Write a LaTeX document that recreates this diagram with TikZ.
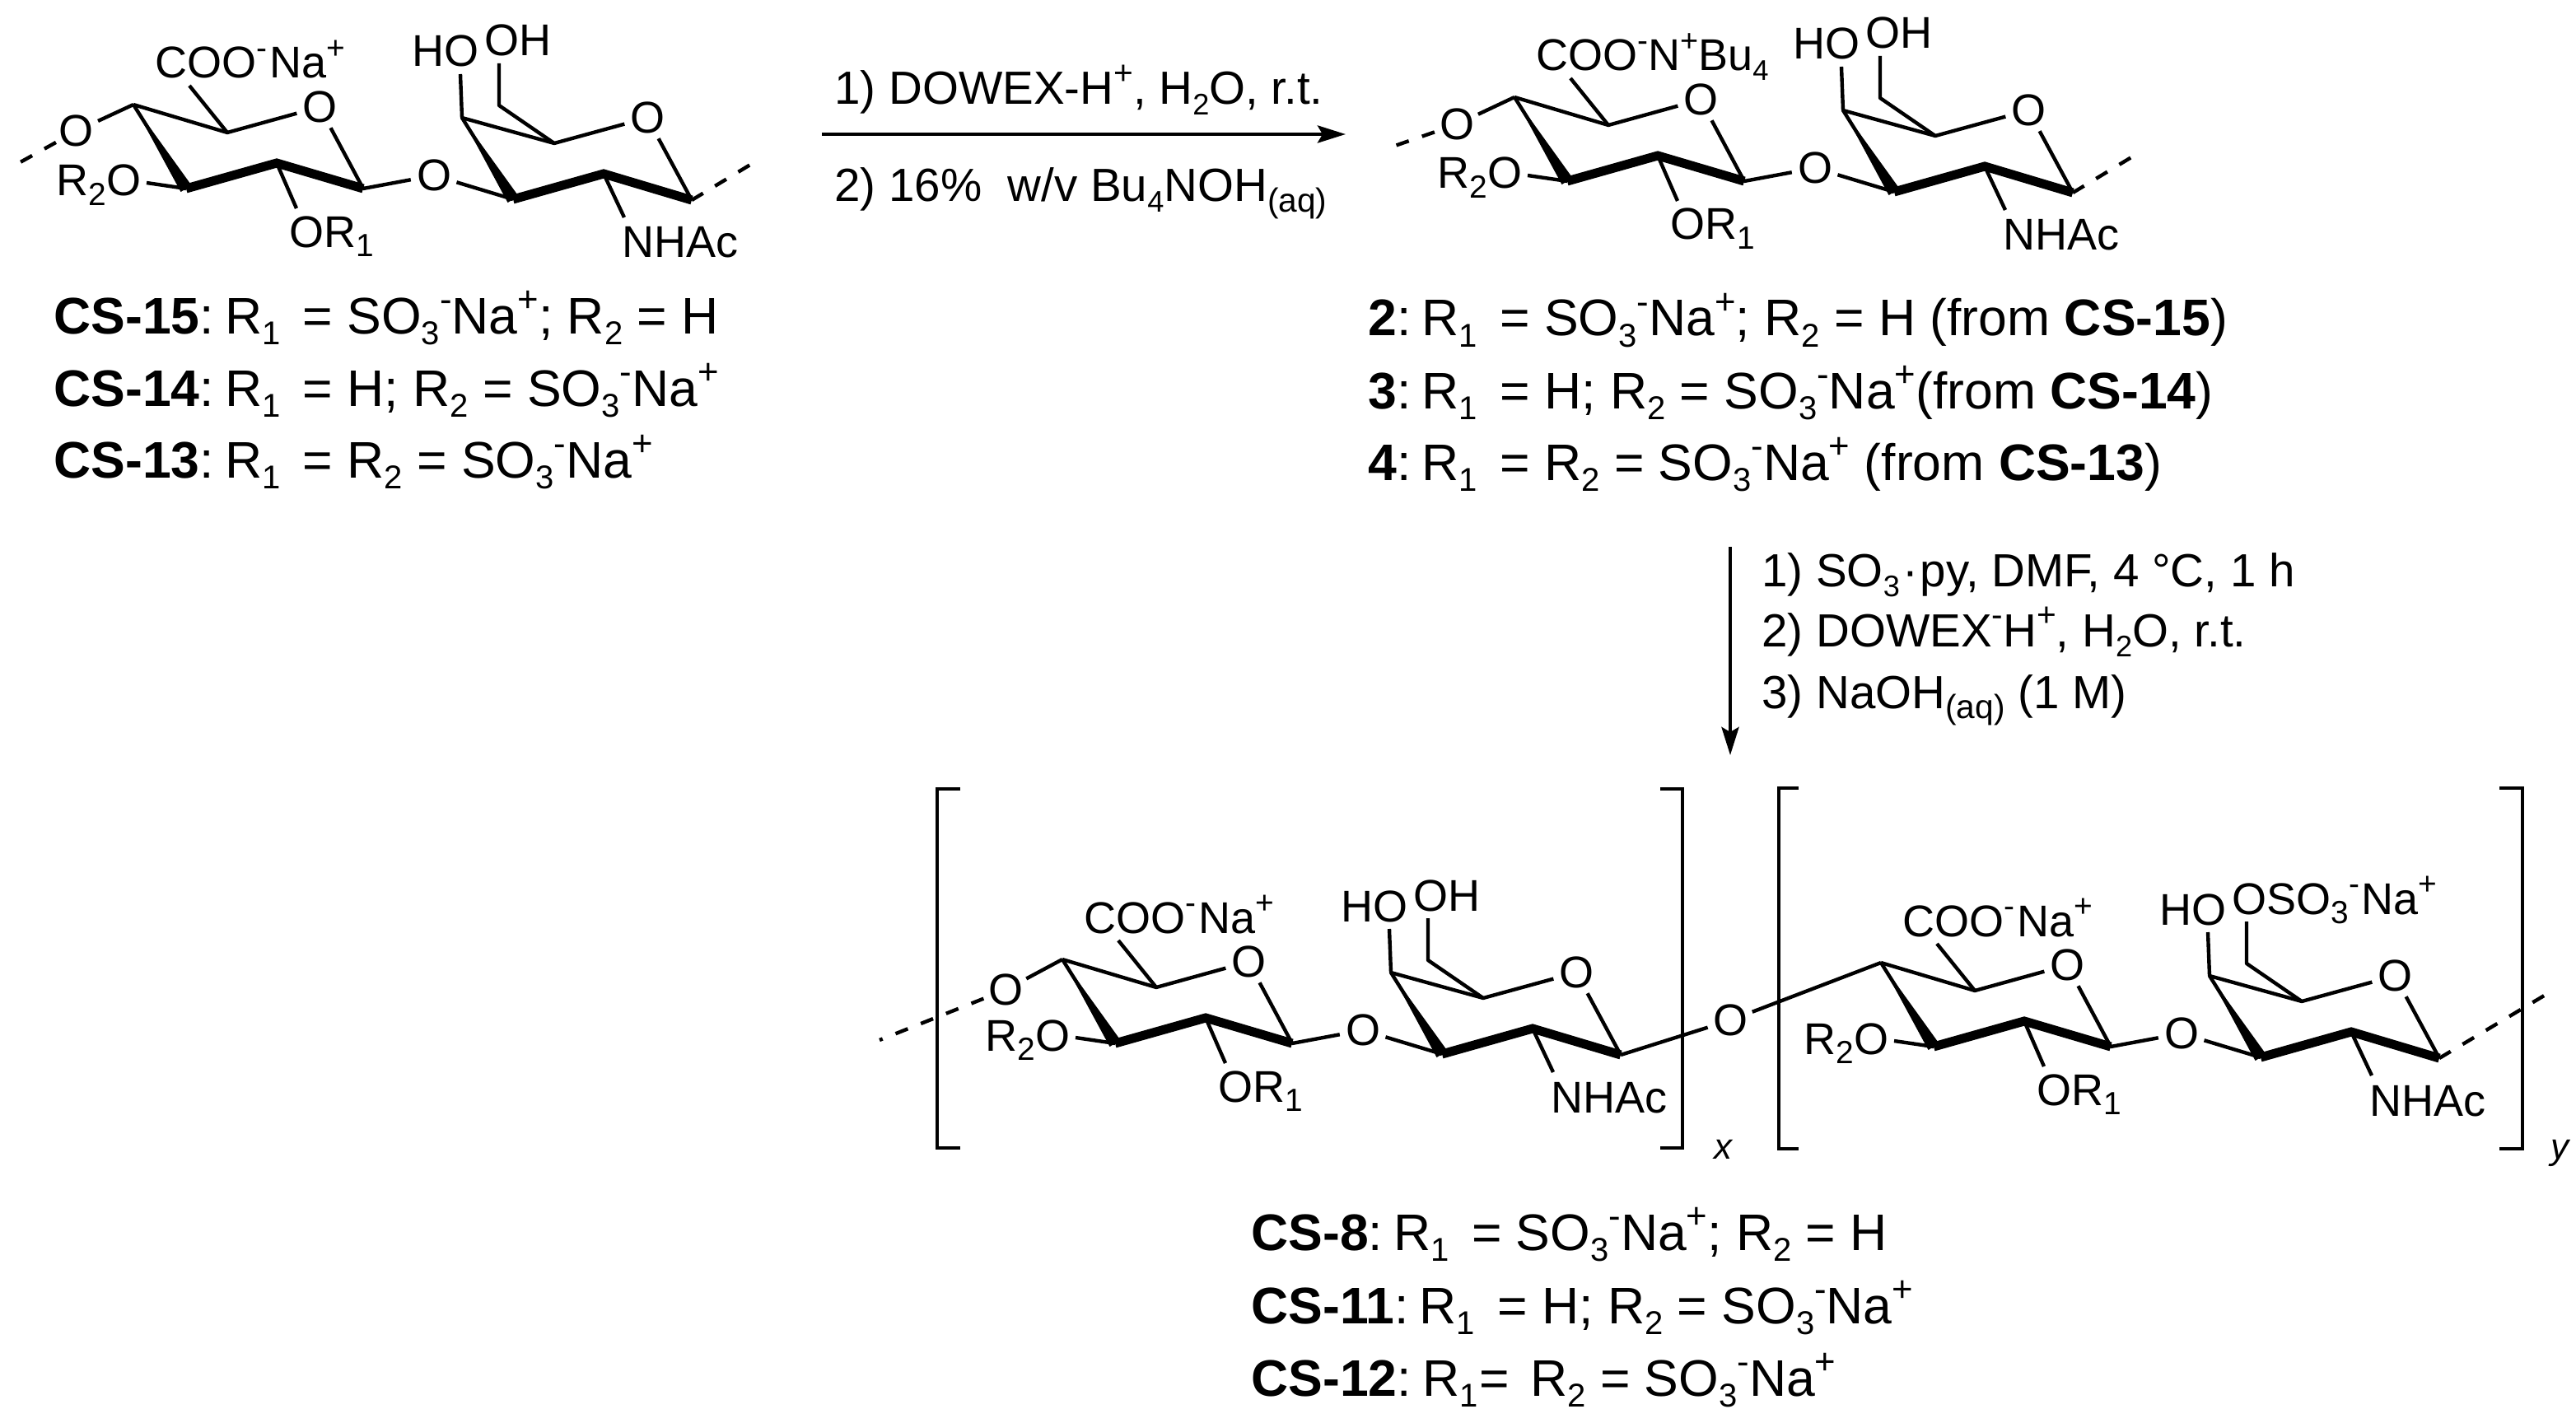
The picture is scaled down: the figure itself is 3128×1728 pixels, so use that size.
\documentclass[tikz,border=0pt]{standalone}
\usepackage{fontspec}
\setmainfont{Liberation Sans}
\usetikzlibrary{arrows.meta,calc}

\newcommand{\strfont}{\fontsize{27}{30}\selectfont}
\newcommand{\rxnfont}{\fontsize{28.25}{32}\selectfont}
\newcommand{\capfont}{\fontsize{31.25}{36}\selectfont}
\newcommand{\subtxt}[1]{\raisebox{-.22em}{\scalebox{.64}{#1}}}
\newcommand{\suptxt}[1]{\raisebox{.43em}{\scalebox{.7}{#1}}}
\newcommand{\sublbl}[1]{\raisebox{-.22em}{\scalebox{.72}{#1}}}
\newcommand{\suplbl}[1]{\raisebox{.43em}{\scalebox{.72}{#1}}}
\newcommand{\sulfate}{SO\subtxt{3}\suptxt{-}Na\suptxt{+}}
\newcommand{\firstR}[1]{\kern-5pt R\subtxt{#1}\kern5pt\relax}
\newcommand{\wedgebond}[2]{\fill (#1) -- ($(#2)!3.8pt!90:(#1)$) -- ($(#2)!3.8pt!-90:(#1)$) -- cycle;}

\tikzset{
    bond/.style={line width=2.2pt, line join=round},
    boldbond/.style={line width=5.5pt, line join=miter},
    dashbond/.style={line width=2.2pt, dash pattern=on 8pt off 8.5pt},
    atom/.style={circle, inner sep=0pt, minimum size=28pt, font=\strfont},
    lbl/.style={anchor=base west, inner sep=0pt, font=\strfont},
    % one disaccharide, #1 = carboxylate text, #2 = text on the CH2 arm
    pics/sugar/.style 2 args={code={
        % ring A
        \coordinate (A4) at (162,127);
        \coordinate (A5) at (276,161);
        \coordinate (A1) at (441,229);
        \coordinate (A2) at (336,198);
        \coordinate (A3) at (226,229);
        \node[atom] (OA) at (388,130) {O};
        \node[atom] (Ogly) at (527,213) {O};
        % ring B
        \coordinate (B4) at (561,143);
        \coordinate (B5) at (673,174);
        \coordinate (B6) at (606,128);
        \coordinate (B1) at (840,243);
        \coordinate (B2) at (733,211);
        \coordinate (B3) at (623,242);
        \node[atom] (OB) at (786,143) {O};
        % substituents
        \node[lbl] (COO) at (188,95) {#1};
        \node[lbl] (HO) at (500,81) {HO};
        \node[lbl] (arm) at (588,68) {#2};
        \node[lbl] (R2O) at (68,238) {R\sublbl{2}O};
        \node[lbl] (OR1) at (351,300) {OR\sublbl{1}};
        \node[lbl] (NHAc) at (755,313) {NHAc};
        \coordinate (COOend) at (230,104);
        \coordinate (HOend) at (559,90);
        \coordinate (armend) at (606,77);
        \coordinate (R2Oend) at (178,222);
        \coordinate (OR1end) at (360,253);
        \coordinate (NHAcend) at (758,264);
        % thin bonds
        \draw[bond] (A4) -- (A5) -- (OA) -- (A1) -- (Ogly) -- (B3);
        \draw[bond] (A5) -- (COOend);
        \draw[bond] (A3) -- (R2Oend);
        \draw[bond] (A2) -- (OR1end);
        \draw[bond] (HOend) -- (B4) -- (B5) -- (OB) -- (B1);
        \draw[bond] (B5) -- (B6) -- (armend);
        \draw[bond] (B2) -- (NHAcend);
        % front edges
        \draw[bond] (A4) -- (A3);
        \draw[bond] (B4) -- (B3);
        \wedgebond{A4}{A3}
        \wedgebond{B4}{B3}
        \draw[boldbond] (A3) -- (A2) -- (A1);
        \draw[boldbond] (B3) -- (B2) -- (B1);
    }},
}

\begin{document}
\begin{tikzpicture}[
    x=0.5pt, y=-0.5pt,
    rxn/.style={line width=2.3pt, -{Stealth[length=17pt, width=10.5pt, inset=3pt]}},
    hook/.style={line width=2.4pt},
    note/.style={anchor=base west, inner sep=0pt, font=\rxnfont},
    capt/.style={anchor=base west, inner sep=0pt, font=\capfont},
    idx/.style={anchor=base, inner sep=0pt, font=\fontsize{22}{24}\selectfont\itshape},
]
\path[use as bounding box] (0,0) rectangle (3128,1728);

% Starting material (top left)
\pic (tl) at (0,0) {sugar={COO\suplbl{-}\kern1.5pt Na\suplbl{+}}{OH}};
\node[atom] (tlO) at (93,159) {O};
\coordinate (tlfree) at (21,199);
\coordinate (tlend) at (916,197);
\draw[bond] (tlO) -- (tlA4);
\draw[dashbond] (tlO) -- (tlfree);
\draw[dashbond] (tlB1) -- (tlend);

\node[capt] (cs15) at (65,405) {\textbf{CS-15}: \firstR{1} = \sulfate; R\subtxt{2} = H};
\node[capt] (cs14) at (65,493) {\textbf{CS-14}: \firstR{1} = H; R\subtxt{2} = \sulfate};
\node[capt] (cs13) at (65,580) {\textbf{CS-13}: \firstR{1} = R\subtxt{2} = \sulfate};

% First step
\coordinate (ionstart) at (998,163);
\coordinate (ionend) at (1634,163);
\draw[rxn] (ionstart) -- (ionend);
\node[note] (ion1) at (1013,127) {1) DOWEX-H\suplbl{+}, H\subtxt{2}O, r.t.};
\node[note] (ion2) at (1013,245) {2) 16\%\ \ w/v Bu\subtxt{4}NOH\sublbl{(aq)}};

% Salt (top right)
\pic (tr) at (1677,-9) {sugar={COO\suplbl{-}N\suptxt{+}Bu\subtxt{4}}{OH}};
\node[atom] (trO) at (1769,151) {O};
\coordinate (trfree) at (1691,178);
\coordinate (trend) at (2593,188);
\draw[bond] (trO) -- (trA4);
\draw[dashbond] (trO) -- (trfree);
\draw[dashbond] (trB1) -- (trend);

\node[capt] (two) at (1661,408) {\textbf{2}: \firstR{1} = \sulfate; R\subtxt{2} = H (from \textbf{CS-15})};
\node[capt] (three) at (1661,496) {\textbf{3}: \firstR{1} = H; R\subtxt{2} = \sulfate(from \textbf{CS-14})};
\node[capt] (four) at (1661,583) {\textbf{4}: \firstR{1} = R\subtxt{2} = \sulfate\ (from \textbf{CS-13})};

% Second step
\coordinate (sulfstart) at (2101,664);
\coordinate (sulfend) at (2101,917);
\draw[rxn] (sulfstart) -- (sulfend);
\node[note] (sulf1) at (2139,712) {1) SO\subtxt{3}\kern1.5pt·\kern1.5pt py, DMF, 4 °C, 1 h};
\node[note] (sulf2) at (2139,785) {2) DOWEX\suplbl{-}H\suplbl{+}, H\subtxt{2}O, r.t.};
\node[note] (sulf3) at (2139,860) {3) NaOH\sublbl{(aq)} (1 M)};

% Product: two bracketed units (bottom)
\pic (bl) at (1128,1038) {sugar={COO\suplbl{-}\kern1.5pt Na\suplbl{+}}{OH}};
\pic (br) at (2122,1042) {sugar={COO\suplbl{-}\kern1.5pt Na\suplbl{+}}{OSO\sublbl{3}\suplbl{-}\kern1pt Na\suplbl{+}}};
\node[atom] (blO) at (1221,1202) {O};
\node[atom] (link) at (2101,1239) {O};
\coordinate (blfree) at (1068,1263);
\coordinate (brend) at (3101,1202);
\draw[bond] (blO) -- (blA4);
\draw[dashbond] (blO) -- (blfree);
\draw[bond] (blB1) -- (link) -- (brA4);
\draw[dashbond] (brB1) -- (brend);

% Brackets
\draw[hook] (1166,958) -| (1138,1394) -- (1166,1394);
\draw[hook] (2016,958) -| (2043,1394) -- (2016,1394);
\draw[hook] (2184,957) -| (2160,1395) -- (2184,1395);
\draw[hook] (3035,957) -| (3063,1395) -- (3035,1395);
\node[idx] (xidx) at (2092,1407) {x};
\node[idx] (yidx) at (3108,1407) {y};

\node[capt] (cs8) at (1519,1518) {\textbf{CS-8}: \firstR{1} = \sulfate; R\subtxt{2} = H};
\node[capt] (cs11) at (1519,1607) {\textbf{CS-11}: \firstR{1} = H; R\subtxt{2} = \sulfate};
\node[capt] (cs12) at (1519,1695) {\textbf{CS-12}: \kern-5pt R\subtxt{1}\kern1pt=\kern4pt\ R\subtxt{2} = \sulfate};

\end{tikzpicture}
\end{document}
